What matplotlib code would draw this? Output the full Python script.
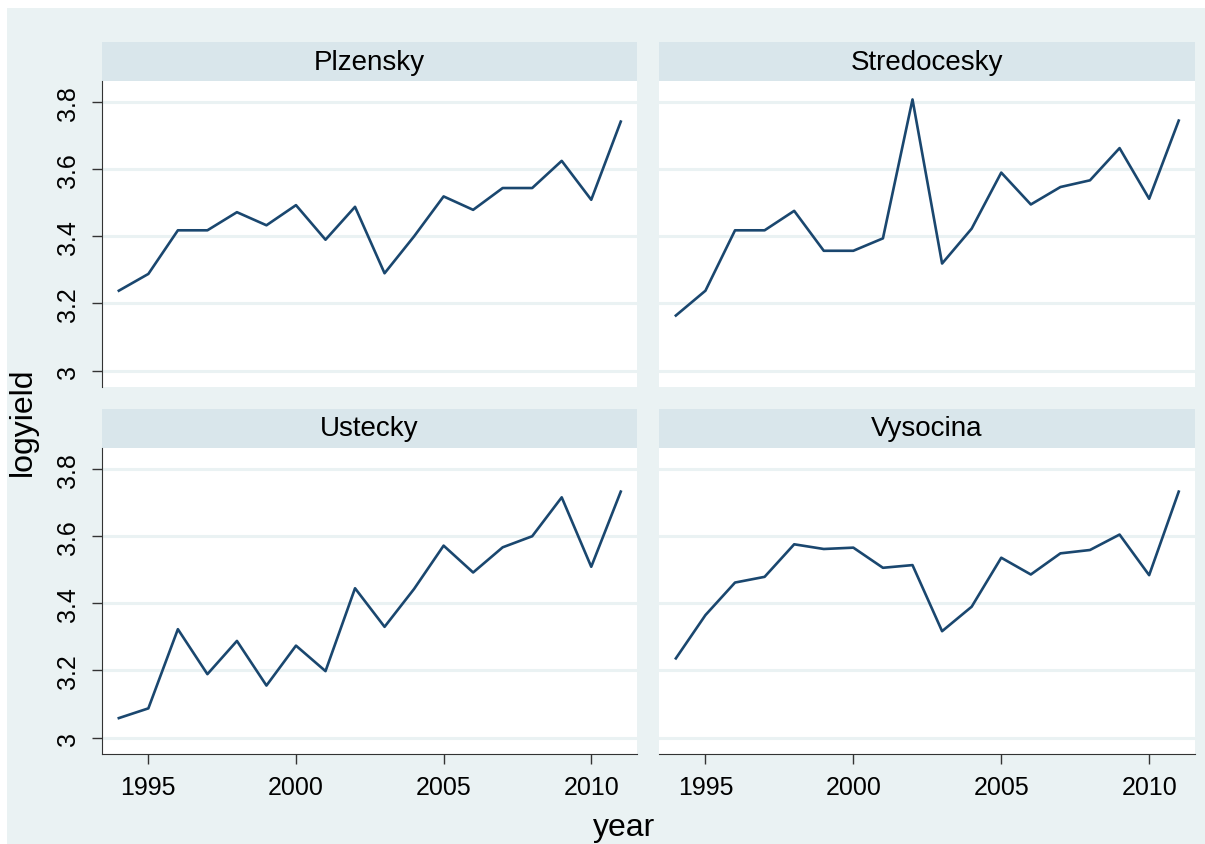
import numpy as np
import matplotlib
matplotlib.use("Agg")
import matplotlib.pyplot as plt
from matplotlib.patches import Rectangle

plt.rcParams['font.family'] = ['Liberation Sans', 'DejaVu Sans']

years = np.arange(1994, 2012)
regions = ["Plzensky", "Stredocesky", "Ustecky", "Vysocina"]

plzensky = [3.238, 3.288, 3.418, 3.418, 3.472, 3.433, 3.493, 3.390, 3.488,
            3.290, 3.400, 3.519, 3.479, 3.544, 3.544, 3.625, 3.509, 3.742]
stredocesky = [3.164, 3.238, 3.418, 3.418, 3.476, 3.357, 3.357, 3.394, 3.808,
               3.319, 3.423, 3.590, 3.495, 3.547, 3.567, 3.663, 3.512, 3.745]
ustecky = [3.058, 3.087, 3.323, 3.189, 3.288, 3.155, 3.274, 3.198, 3.445,
           3.330, 3.443, 3.572, 3.492, 3.567, 3.600, 3.716, 3.509, 3.733]
vysocina = [3.236, 3.365, 3.462, 3.479, 3.576, 3.562, 3.566, 3.506, 3.514,
            3.317, 3.390, 3.536, 3.486, 3.549, 3.559, 3.605, 3.484, 3.733]
series = [plzensky, stredocesky, ustecky, vysocina]

yticks = [3, 3.2, 3.4, 3.6, 3.8]
ytick_labels = ["3", "3.2", "3.4", "3.6", "3.8"]
xticks = [1995, 2000, 2005, 2010]

bg = "#EAF2F3"
strip = "#D9E6EB"
line_col = "#1A476F"

W, H = 1205, 845
fig = plt.figure(figsize=(W / 100, H / 100), dpi=100)
fig.patch.set_facecolor("white")
fig.patches.append(Rectangle((7 / W, 0), 1 - 7 / W, (H - 9) / H,
                             transform=fig.transFigure, facecolor=bg,
                             edgecolor="none", zorder=0))

# pixel boxes: (left, right) per column, (top, bottom) per row
cols = [(102, 637), (659, 1195)]
rows = [(82, 388), (449, 755)]
strip_h = 39

for i, name in enumerate(regions):
    r, c = divmod(i, 2)
    x0, x1 = cols[c]
    y0, y1 = rows[r]
    ax = fig.add_axes([x0 / W, (H - y1) / H, (x1 - x0) / W, (y1 - y0) / H])
    ax.set_zorder(5)
    ax.set_facecolor("white")

    fig.patches.append(Rectangle((x0 / W, (H - y0) / H), (x1 - x0) / W,
                                 strip_h / H, transform=fig.transFigure,
                                 facecolor=strip, edgecolor="none", zorder=1))
    fig.text((x0 + x1) / 2 / W, (H - y0 + strip_h / 2) / H, name,
             ha="center", va="center", fontsize=20, color="black", zorder=6)

    ax.plot(years, series[i], color=line_col, lw=1.9)

    ax.set_xlim(1993.43, 2011.55)
    ax.set_ylim(2.951, 3.863)
    ax.set_yticks(yticks)
    ax.set_xticks(xticks)
    ax.yaxis.grid(True, color=bg, lw=2.2)
    ax.set_axisbelow(True)

    for s in ax.spines.values():
        s.set_visible(False)
    ax.tick_params(axis="both", direction="out", length=7, width=1,
                   color="#333333", labelsize=18, labelcolor="black")

    if c == 0:
        ax.spines["left"].set_visible(True)
        ax.spines["left"].set_color("#333333")
        ax.set_yticklabels(ytick_labels, rotation=90, va="center")
        ax.tick_params(axis="y", pad=9)
    else:
        ax.tick_params(axis="y", length=0, labelleft=False)

    if r == 1:
        ax.spines["bottom"].set_visible(True)
        ax.spines["bottom"].set_color("#333333")
        ax.tick_params(axis="x", pad=8)
    else:
        ax.tick_params(axis="x", length=0, labelbottom=False)

fig.text(23 / W, (H - 422) / H, "logyield", rotation=90, ha="center",
         va="center", fontsize=23)
fig.text(624 / W, (H - 828) / H, "year", ha="center", va="center",
         fontsize=23)

fig.savefig("out.png", dpi=100, facecolor=fig.get_facecolor())
